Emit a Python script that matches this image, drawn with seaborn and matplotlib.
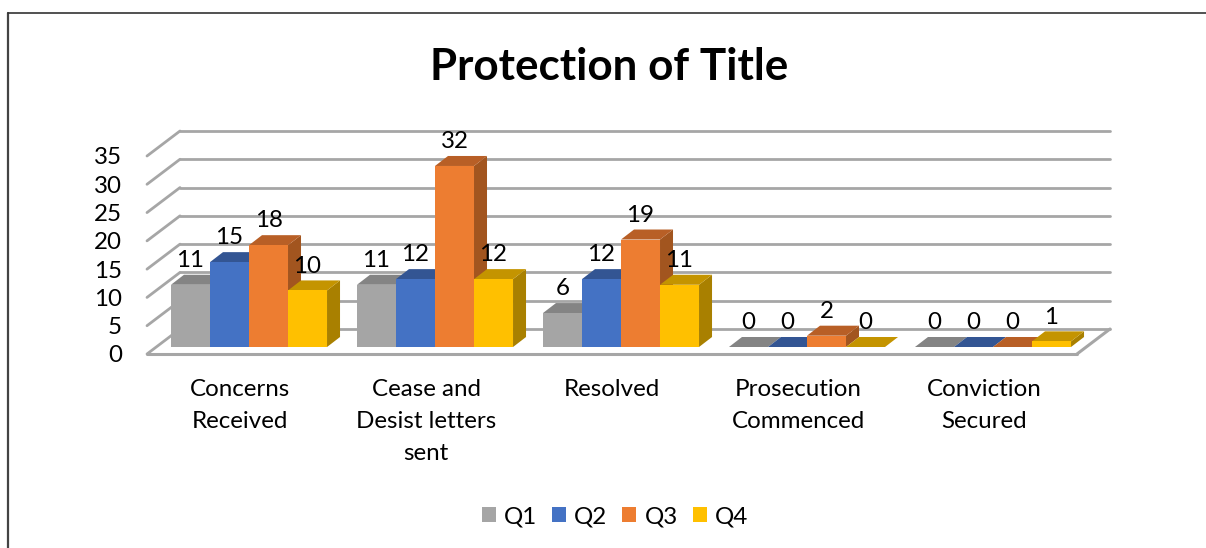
import matplotlib
matplotlib.use("Agg")
import matplotlib.pyplot as plt
import pandas as pd
import seaborn as sns
from matplotlib.lines import Line2D
from matplotlib.patches import Patch, Polygon
from matplotlib.transforms import Affine2D

categories = ["Concerns\nReceived", "Cease and\nDesist letters\nsent", "Resolved",
              "Prosecution\nCommenced", "Conviction\nSecured"]
q1 = [11, 11, 6, 0, 0]
q2 = [15, 12, 12, 0, 0]
q3 = [18, 32, 19, 2, 0]
q4 = [10, 12, 11, 0, 1]
quarters = ["Q1", "Q2", "Q3", "Q4"]
colors = ["#A5A5A5", "#4472C4", "#ED7D31", "#FFC000"]
top_colors = ["#848484", "#335593", "#B85F26", "#C49400"]
side_colors = ["#6E6E6E", "#2B4A82", "#A2551F", "#A98000"]
y_ticks = [0, 5, 10, 15, 20, 25, 30, 35]
title = "Protection of Title"

W, H = 1206, 548
sns.set_theme(style="white")
plt.rcParams["font.family"] = ["Lato", "DejaVu Sans"]
TXT = "#000000"
FS = 17.4

df = pd.DataFrame({
    "category": categories * 4,
    "value": q1 + q2 + q3 + q4,
    "quarter": [q for q in quarters for _ in categories],
})

fig = plt.figure(figsize=(W / 100, H / 100), dpi=100, facecolor="white")
ax = fig.add_axes([147 / W, (H - 354) / H, 930 / W, 198 / H])
sns.barplot(data=df, x="category", y="value", hue="quarter", palette=colors,
            hue_order=quarters, order=categories, width=0.839, gap=0,
            saturation=1, linewidth=0, errorbar=None, ax=ax, legend=False)
ax.set_xlim(-0.5, 4.5)
ax.set_ylim(0, 35)
ax.set_xlabel("")
ax.set_ylabel("")
sns.despine(ax=ax, left=True, bottom=True)
ax.patch.set_alpha(0)

px_x = 930 / 5
px_y = 198 / 35
front = ax.transData + Affine2D().translate(9, 7)
depth_x, depth_y = 13 / px_x, 10 / px_y
wall = ax.transData + Affine2D().translate(33, 25)

# walls and floor
GRID = "#A6A6A6"
for v in y_ticks:
    ax.plot([-0.5, 4.5], [v, v], color=GRID, lw=2, transform=wall, clip_on=False, zorder=1)
    ax.plot([-0.5, -0.5 + 33 / px_x], [v, v + 25 / px_y], color=GRID, lw=2,
            clip_on=False, zorder=1)
ax.plot([-0.5, 4.5], [0, 0], color=GRID, lw=2.2, clip_on=False, zorder=1)
ax.plot([4.5, 4.5 + 33 / px_x], [0, 25 / px_y], color=GRID, lw=2.2, clip_on=False, zorder=1)

# bars with depth, painted left to right
bars = []
for qi, container in enumerate(ax.containers):
    for rect in container:
        bars.append((rect.get_x(), qi, rect))
bars.sort(key=lambda b: b[0])
for order, (x0, qi, rect) in enumerate(bars):
    x1 = x0 + rect.get_width()
    h = rect.get_height()
    z = 3 + order * 2
    rect.set_transform(front)
    rect.set_clip_on(False)
    rect.set_zorder(z + 1)
    top = Polygon([(x0, h), (x1, h), (x1 + depth_x, h + depth_y), (x0 + depth_x, h + depth_y)],
                  closed=True, facecolor=top_colors[qi], edgecolor="none",
                  transform=front, clip_on=False, zorder=z)
    side = Polygon([(x1, 0), (x1, h), (x1 + depth_x, h + depth_y), (x1 + depth_x, depth_y)],
                   closed=True, facecolor=side_colors[qi], edgecolor="none",
                   transform=front, clip_on=False, zorder=z)
    ax.add_patch(side)
    ax.add_patch(top)
    ax.annotate(f"{h:.0f}", xy=(x0 + rect.get_width() / 2, h), xycoords=front,
                xytext=(0, 17.5), textcoords="offset points", ha="center", va="center",
                fontsize=FS, color=TXT, zorder=200, annotation_clip=False)

ax.set_yticks(y_ticks)
ax.set_xticks(range(len(categories)))
ax.set_xticklabels(categories, fontsize=FS, color=TXT, linespacing=1.66)
ax.tick_params(axis="x", length=0, pad=18)
ax.tick_params(axis="y", length=0, pad=18, labelsize=FS, labelcolor=TXT)

fig.text(609 / W, 1 - 67 / H, title, ha="center", va="center", fontsize=31.7,
         fontweight="bold", color=TXT)

handles = [Patch(facecolor=c, edgecolor="none", label=q) for c, q in zip(colors, quarters)]
fig.legend(handles=handles, loc="center", bbox_to_anchor=(615 / W, 1 - 517 / H), ncol=4,
           frameon=False, fontsize=FS, handlelength=0.58, handleheight=0.58,
           handletextpad=0.33, columnspacing=0.62, labelcolor=TXT, borderpad=0)

# chart frame, cut off on the right and at the bottom
fig.add_artist(Line2D([8 / W, 8 / W], [0, 1 - 13 / H], color="#444444", lw=1.6))
fig.add_artist(Line2D([8 / W, 1], [1 - 13 / H, 1 - 13 / H], color="#333333", lw=1.2))

fig.savefig("out.png", dpi=100, facecolor="white")
